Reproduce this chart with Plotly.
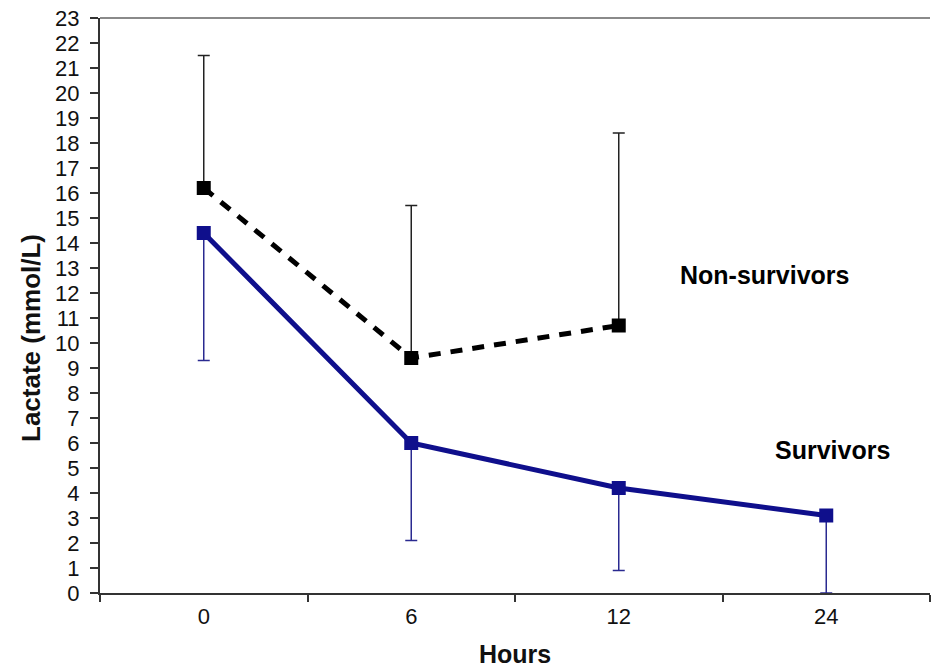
import plotly.graph_objects as go

hours = ["0", "6", "12", "24"]
nonsurv_hours = ["0", "6", "12"]
nonsurv_mean = [16.2, 9.4, 10.7]
nonsurv_err_up = [5.3, 6.1, 7.7]
surv_mean = [14.4, 6.0, 4.2, 3.1]
surv_err_down = [5.1, 3.9, 3.3, 3.1]
y_ticks = list(range(0, 24))

navy = "#0f0f8c"
FONT = "Liberation Sans, Arial, sans-serif"

fig = go.Figure()
fig.add_trace(go.Scatter(
    x=hours, y=surv_mean, mode="lines+markers",
    line=dict(color=navy, width=5),
    marker=dict(symbol="square", size=14, color=navy),
    error_y=dict(type="data", symmetric=False, array=[0]*4, arrayminus=surv_err_down,
                 color="#2a2a90", thickness=1.5, width=6),
    showlegend=False, cliponaxis=False,
))
fig.add_trace(go.Scatter(
    x=nonsurv_hours, y=nonsurv_mean, mode="lines+markers",
    line=dict(color="black", width=5, dash="12px,10px"),
    marker=dict(symbol="square", size=14, color="black"),
    error_y=dict(type="data", symmetric=False, array=nonsurv_err_up, arrayminus=[0]*3,
                 color="#222222", thickness=1.5, width=6),
    showlegend=False, cliponaxis=False,
))

fig.add_annotation(x=2.70, y=12.72, xref="x", yref="y", text="<b>Non-survivors</b>",
                   xanchor="center", yanchor="middle", showarrow=False,
                   font=dict(family=FONT, size=25, color="black"))
fig.add_annotation(x=3.03, y=5.72, xref="x", yref="y", text="<b>Survivors</b>",
                   xanchor="center", yanchor="middle", showarrow=False,
                   font=dict(family=FONT, size=25, color="black"))

plot_l, plot_r, plot_t, plot_b = 100, 930, 18, 593
fig.add_annotation(x=(31 - plot_l) / (plot_r - plot_l), y=(plot_b - 338) / (plot_b - plot_t),
                   xref="paper", yref="paper", text="<b>Lactate (mmol/L)</b>",
                   textangle=-90, showarrow=False, xanchor="center", yanchor="middle",
                   font=dict(family=FONT, size=26, color="#111"))

fig.add_shape(type="line", xref="paper", yref="paper", x0=0, x1=1, y0=1, y1=1,
              line=dict(color="#8a8a8a", width=2))

fig.update_layout(
    width=931, height=669,
    margin=dict(l=100, r=1, t=18, b=76),
    plot_bgcolor="white", paper_bgcolor="white",
    xaxis=dict(
        type="category", categoryorder="array", categoryarray=hours,
        range=[-0.5, 3.5], tickson="boundaries",
        ticks="outside", ticklen=7, tickcolor="#333", tickwidth=1.5,
        showline=True, linecolor="#333", linewidth=2, showgrid=False,
        tickfont=dict(family=FONT, size=22, color="#111"),
        ticklabelstandoff=3,
        title=dict(text="<b>Hours</b>", standoff=17,
                   font=dict(family=FONT, size=25, color="#111")),
    ),
    yaxis=dict(
        range=[0, 23], tickvals=y_ticks, ticks="outside", ticklen=8, tickcolor="#333", tickwidth=1.5,
        showline=True, linecolor="#333", linewidth=2, showgrid=False, zeroline=False,
        tickfont=dict(family=FONT, size=22, color="#111"),
        ticklabelstandoff=6,
    ),
)

fig.write_html("out.html")
